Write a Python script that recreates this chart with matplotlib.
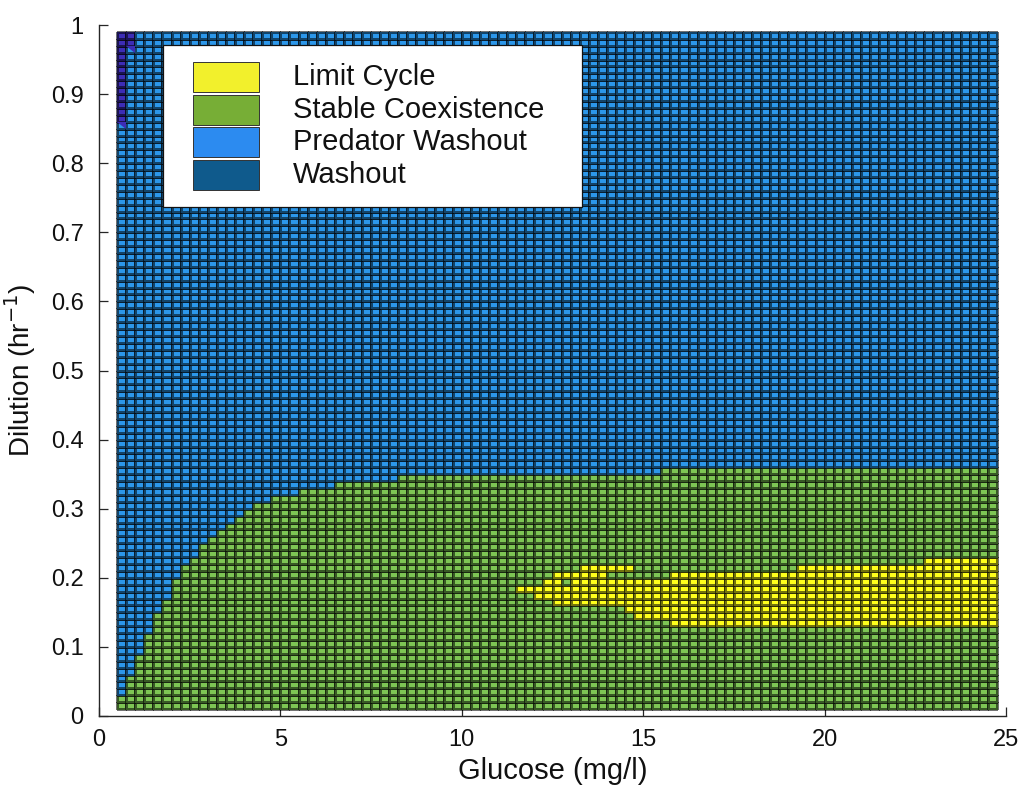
import numpy as np
import matplotlib
matplotlib.use("Agg")
import matplotlib.pyplot as plt
from matplotlib.colors import ListedColormap, BoundaryNorm
from matplotlib.patches import Rectangle, Polygon

W, H = 1023, 792

# Operating-condition grid (cell edges)
glucose_edges = np.arange(0.5, 24.75 + 1e-9, 0.25)    # mg/l
dilution_edges = np.arange(0.01, 0.99 + 1e-9, 0.01)   # 1/hr

# Upper dilution edge of the stable-coexistence region; each value holds
# from the listed glucose column onward
coexist_from_glucose = [0.5, 0.75, 1.0, 1.25, 1.5, 1.75, 2.0, 2.25, 2.5, 2.75,
                        3.0, 3.25, 3.5, 3.75, 4.0, 4.25, 4.75, 5.5, 6.5, 8.25, 15.5]
coexist_top_dilution = [0.03, 0.06, 0.09, 0.12, 0.15, 0.17, 0.20, 0.22, 0.23, 0.25,
                        0.26, 0.27, 0.28, 0.29, 0.30, 0.31, 0.32, 0.33, 0.34, 0.35, 0.36]

# Limit-cycle cells: lower dilution edge of each row and its glucose spans
cycle_row_dilution = [0.13, 0.14, 0.15, 0.16, 0.17, 0.18, 0.19, 0.20, 0.21, 0.22]
cycle_row_spans = [
    [(15.75, 24.75)],
    [(14.75, 24.75)],
    [(14.5, 24.75)],
    [(12.5, 24.75)],
    [(12.0, 24.75)],
    [(11.5, 24.75)],
    [(12.25, 12.75), (13.0, 24.75)],
    [(12.5, 14.0), (15.75, 24.75)],
    [(13.25, 14.75), (19.25, 24.75)],
    [(22.75, 24.75)],
]

# Total washout in the low-glucose / high-dilution corner
washout_col_glucose = [0.5, 0.75]
washout_from_dilution = [0.86, 0.97]
washout_partial_dilution = [0.85, 0.96]

regime_names = ["Limit Cycle", "Stable Coexistence", "Predator Washout", "Washout"]
cell_colors = {"Washout": "#3d2db6", "Predator Washout": "#2c97ea",
               "Stable Coexistence": "#7dc554", "Limit Cycle": "#ffff1c"}
legend_colors = ["#f2f02c", "#77ae36", "#2c8bf0", "#0f5a8c"]

# Build the regime matrix (rows = dilution, cols = glucose)
g_lo = glucose_edges[:-1]
d_lo = dilution_edges[:-1]
WASH, PRED, COEX, CYC = 0, 1, 2, 3
regime = np.full((len(d_lo), len(g_lo)), PRED)

for i, g in enumerate(g_lo):
    k = max(j for j, gs in enumerate(coexist_from_glucose) if gs <= g + 1e-9)
    top = coexist_top_dilution[k]
    regime[d_lo + 0.005 < top, i] = COEX

for d, spans in zip(cycle_row_dilution, cycle_row_spans):
    r = int(np.argmin(np.abs(d_lo - d)))
    for g0, g1 in spans:
        cols = (g_lo >= g0 - 1e-9) & (g_lo < g1 - 1e-9)
        regime[r, cols] = CYC

for g, d in zip(washout_col_glucose, washout_from_dilution):
    c = int(np.argmin(np.abs(g_lo - g)))
    regime[d_lo >= d - 1e-9, c] = WASH

cmap = ListedColormap([cell_colors["Washout"], cell_colors["Predator Washout"],
                       cell_colors["Stable Coexistence"], cell_colors["Limit Cycle"]])
norm = BoundaryNorm([-0.5, 0.5, 1.5, 2.5, 3.5], cmap.N)

plt.rcParams["font.family"] = ["Liberation Sans", "DejaVu Sans"]
fig = plt.figure(figsize=(W / 100, H / 100), dpi=100)
ax = fig.add_axes([99 / W, 1 - 716 / H, (1006 - 99) / W, (716 - 25) / H])

ax.pcolormesh(glucose_edges, dilution_edges, regime, cmap=cmap, norm=norm,
              edgecolors=(0, 0, 0, 0.55), linewidth=0.75, zorder=1)

# diagonal partial cells at the lower tip of the washout strip
for g, d in zip(washout_col_glucose, washout_partial_dilution):
    tri = Polygon([(g, d + 0.01), (g + 0.25, d + 0.01), (g + 0.25, d)],
                  closed=True, facecolor=cell_colors["Washout"], edgecolor="none", zorder=1.5)
    ax.add_patch(tri)

ax.set_xlim(0, 25)
ax.set_ylim(0, 1)
ax.set_xticks([0, 5, 10, 15, 20, 25])
ax.set_yticks(np.round(np.arange(0, 1.01, 0.1), 1))
ax.set_yticklabels(["0", "0.1", "0.2", "0.3", "0.4", "0.5", "0.6", "0.7", "0.8", "0.9", "1"])
ax.set_axisbelow(True)
for s in ["top", "right"]:
    ax.spines[s].set_visible(False)
for s in ["left", "bottom"]:
    ax.spines[s].set_color("#262626")
    ax.spines[s].set_linewidth(1.0)
ax.tick_params(direction="in", length=6.5, width=0.9, color="#262626",
               labelsize=17, labelcolor="#111111")
ax.tick_params(axis="y", pad=11)
ax.tick_params(axis="x", pad=9)

ax.set_xlabel("Glucose (mg/l)", fontsize=21, labelpad=5, color="#111111")
ax.set_ylabel("Dilution (hr$^{-1}$)", fontsize=20, labelpad=9, color="#111111")


def fpx(x, y):
    return x / W, 1 - y / H


# Legend drawn in figure pixel positions
lx0, ly0, lx1, ly1 = 163, 45, 582, 207
fig.patches.append(Rectangle(fpx(lx0, ly1), (lx1 - lx0) / W, (ly1 - ly0) / H,
                             transform=fig.transFigure, facecolor="white",
                             edgecolor="#111111", linewidth=0.9, zorder=5))
for k, (name, col) in enumerate(zip(regime_names, legend_colors)):
    top = 62 + k * 32.7
    fig.patches.append(Rectangle(fpx(193, top + 30), 66 / W, 30 / H,
                                 transform=fig.transFigure, facecolor=col,
                                 edgecolor="#333333", linewidth=0.7, zorder=6))
    fig.text(293 / W, 1 - (top + 15) / H, name, fontsize=21, va="center",
             ha="left", color="#111111", zorder=7)

fig.savefig("out.png", dpi=100)
